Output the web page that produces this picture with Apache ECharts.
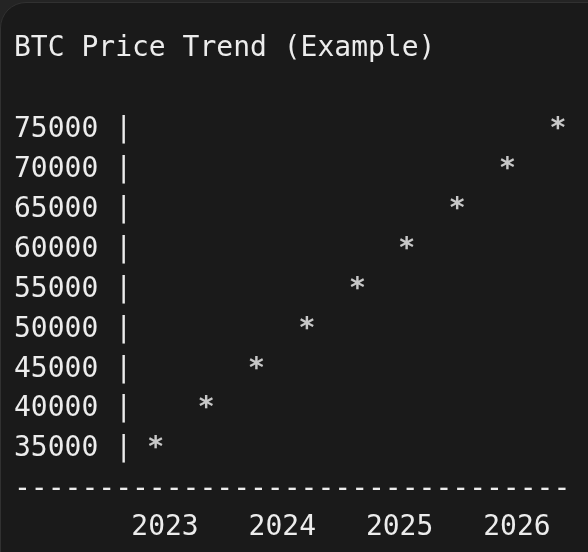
<!DOCTYPE html>
<html>
<head>
<meta charset="utf-8">
<script src="https://cdn.jsdelivr.net/npm/echarts@6/dist/echarts.min.js"></script>
<style>
  html, body { margin: 0; padding: 0; width: 588px; height: 552px; background: #242424; overflow: hidden; }
  #box { position: absolute; left: 0; top: 2px; width: 640px; height: 580px; background: #1a1a1a; border: 1px solid #313131; border-radius: 26px; box-sizing: border-box; }
  #chart { position: absolute; left: 0; top: 0; width: 588px; height: 552px; }
</style>
</head>
<body>
<div id="box"></div>
<div id="chart"></div>
<script>
const titleText = 'BTC Price Trend (Example)';
const timePoints = [2022.92, 2023.35, 2023.78, 2024.21, 2024.64, 2025.06, 2025.49, 2025.92, 2026.35];
const prices = [35000, 40000, 45000, 50000, 55000, 60000, 65000, 70000, 75000];
const yearTicks = [2023, 2024, 2025, 2026];
const yTicks = [35000, 40000, 45000, 50000, 55000, 60000, 65000, 70000, 75000];

const FONT = '"DejaVu Sans Mono", "Liberation Mono", monospace';
const FG = '#ececec';
const FS = 28;

const chart = echarts.init(document.getElementById('chart'), null, { renderer: 'canvas' });
chart.setOption({
  animation: false,
  backgroundColor: 'transparent',
  title: {
    text: titleText,
    left: 14, top: 29, padding: 0,
    textStyle: { color: FG, fontFamily: FONT, fontSize: FS, fontWeight: 'normal', lineHeight: 40 }
  },
  grid: { left: 106.35, right: 12.45, top: 130, bottom: 103, containLabel: false },
  xAxis: {
    type: 'value', min: 2022.5, max: 2026.5, interval: 0.5,
    axisLine: { show: false }, axisTick: { show: false }, splitLine: { show: false },
    axisLabel: {
      margin: 59, color: FG, fontFamily: FONT, fontSize: FS, lineHeight: 40,
      formatter: v => yearTicks.indexOf(Math.round(v * 10) / 10) >= 0 ? String(v) : ''
    }
  },
  yAxis: {
    type: 'value', min: yTicks[0], max: yTicks[yTicks.length - 1], interval: 5000,
    axisLine: { show: false }, axisTick: { show: false }, splitLine: { show: false },
    axisLabel: { align: 'left', margin: 92.35, color: FG, fontFamily: FONT, fontSize: FS, lineHeight: 40, formatter: v => v + ' |' }
  },
  graphic: [{
    type: 'text', left: 14, top: 469.5,
    style: { text: '-'.repeat(33), fill: FG, font: FS + 'px ' + FONT, lineHeight: 40 },
    silent: true
  }],
  series: [{
    type: 'scatter',
    data: timePoints.map((t, i) => [t, prices[i]]),
    symbolSize: 1,
    itemStyle: { color: 'rgba(0,0,0,0)' },
    emphasis: { disabled: true },
    label: { show: true, position: 'inside', formatter: '*', color: '#f4f4f4', fontFamily: FONT, fontWeight: 'bold', fontSize: FS, lineHeight: 40 }
  }]
});
</script>
</body>
</html>
